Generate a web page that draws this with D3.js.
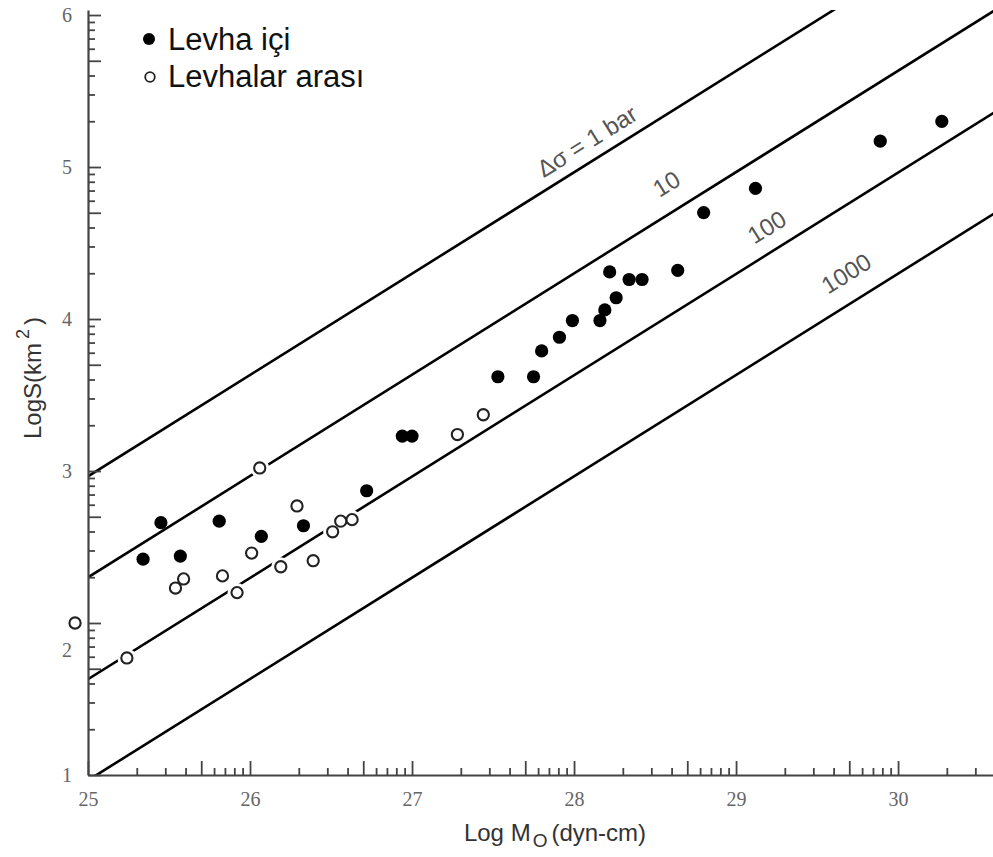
<!DOCTYPE html>
<html>
<head>
<meta charset="utf-8">
<script src="https://cdn.jsdelivr.net/npm/d3@7"></script>
<style>
  html, body { margin: 0; padding: 0; background: #fff; }
  svg { display: block; }
</style>
</head>
<body>
<script>
// Rupture area vs. seismic moment, with constant stress-drop lines

// Intraplate events (filled symbols): log M0 (dyn-cm), log S (km^2)
const intraLogM = [25.34, 25.45, 25.57, 25.81, 26.07, 26.33, 26.72, 26.94, 27.00,
  27.53, 27.75, 27.80, 27.91, 27.99, 28.16, 28.19, 28.22, 28.26, 28.34, 28.42,
  28.64, 28.80, 29.12, 29.89, 30.27];
const intraLogS = [2.42, 2.66, 2.44, 2.67, 2.57, 2.64, 2.87, 3.23, 3.23,
  3.62, 3.62, 3.79, 3.88, 3.99, 3.99, 4.06, 4.31, 4.14, 4.26, 4.26,
  4.32, 4.70, 4.86, 5.17, 5.30];

// Interplate events (open symbols)
const interLogM = [24.92, 25.24, 25.54, 25.59, 25.83, 25.92, 26.01, 26.06, 26.19,
  26.29, 26.39, 26.51, 26.56, 26.63, 27.28, 27.44];
const interLogS = [2.00, 1.77, 2.23, 2.29, 2.31, 2.20, 2.46, 3.02, 2.37,
  2.77, 2.41, 2.60, 2.67, 2.68, 3.24, 3.37];

// Constant stress-drop lines, given by their end values
const stressLabels = ["\u0394\u03c3 = 1 bar", "10", "100", "1000"];
const lineLogM = [25, 31];
const lineStartLogS = [2.965, 2.30, 1.63, 0.965];
const lineEndLogS = [6.965, 6.30, 5.63, 4.965];
// where each line's label sits (log M0, log S)
const labelLogM = [28.08, 28.57, 29.19, 29.68];
const labelLogS = [5.17, 4.89, 4.605, 4.30];

// Axis ticks
const xMajorTicks = [25, 26, 27, 28, 29, 30];
const yMajorTicks = [1, 2, 3, 4, 5, 6];
const minorFactors = [2, 3, 4, 6, 7, 8, 9];
const midFactor = 5;

const legendLabels = ["Levha i\u00e7i", "Levhalar aras\u0131"];

const W = 993, H = 857;
const svg = d3.select("body").append("svg").attr("width", W).attr("height", H);

const x = d3.scaleLinear().domain([25, 30.586]).range([88, 993]);
const y = d3.scaleLinear().domain([1, 6.033]).range([775, 10]);

const axisColor = "#444";
const serif = "'Liberation Serif', 'DejaVu Serif', serif";
const sans = "'Liberation Sans', Arial, sans-serif";

// decade sub-ticks of a log scale, expressed in log units
function subTicks(lo, hi, factors) {
  const out = [];
  for (let n = Math.floor(lo); n < hi; n++) {
    factors.forEach(k => {
      const v = n + Math.log10(k);
      if (v > lo && v < hi) out.push(v);
    });
  }
  return out;
}

// clip for the stress-drop lines
svg.append("clipPath").attr("id", "plotClip")
  .append("rect").attr("x", x(25)).attr("y", y(6.033))
  .attr("width", x(30.586) - x(25)).attr("height", y(1) - y(6.033));

// ---- stress-drop lines
const lineGen = d3.line().x(d => x(d[0])).y(d => y(d[1]));
const linesG = svg.append("g").attr("clip-path", "url(#plotClip)");
stressLabels.forEach((lab, i) => {
  linesG.append("path")
    .attr("d", lineGen([[lineLogM[0], lineStartLogS[i]], [lineLogM[1], lineEndLogS[i]]]))
    .attr("fill", "none").attr("stroke", "#000").attr("stroke-width", 2.6);
});

// labels along the lines
const angle = -Math.atan(((y(1) - y(2)) * (2 / 3)) / (x(26) - x(25))) * 180 / Math.PI;
stressLabels.forEach((lab, i) => {
  const px = x(labelLogM[i]), py = y(labelLogS[i]);
  svg.append("text")
    .attr("transform", `translate(${px},${py}) rotate(${angle})`)
    .attr("text-anchor", "middle").attr("dominant-baseline", "central")
    .attr("font-family", sans).attr("font-size", 24).attr("fill", "#555")
    .text(lab);
});

// ---- axes
function styleAxis(g) {
  g.selectAll("path.domain").attr("stroke", axisColor).attr("stroke-width", 2.2);
  g.selectAll(".tick line").attr("stroke", axisColor).attr("stroke-width", 1.8);
}

const xG = svg.append("g").attr("transform", `translate(0,${y(1)})`);
xG.append("g").call(d3.axisBottom(x).tickValues(subTicks(25, 30.586, minorFactors))
  .tickSizeInner(-7).tickSizeOuter(0).tickFormat(""))
  .call(g => g.select(".domain").remove()).call(styleAxis);
xG.append("g").call(d3.axisBottom(x).tickValues(subTicks(25, 30.586, [midFactor]))
  .tickSizeInner(-14).tickSizeOuter(0).tickFormat(""))
  .call(g => g.select(".domain").remove()).call(styleAxis);
xG.append("g").call(d3.axisBottom(x).tickValues(xMajorTicks)
  .tickSizeInner(-14).tickSizeOuter(0).tickPadding(17).tickFormat(d3.format("d")))
  .call(styleAxis)
  .call(g => g.selectAll("text").attr("font-family", serif).attr("font-size", 20).attr("fill", "#666"));

const yG = svg.append("g").attr("transform", `translate(${x(25)},0)`);
yG.append("g").call(d3.axisLeft(y).tickValues(subTicks(1, 6.033, minorFactors))
  .tickSizeInner(-7).tickSizeOuter(0).tickFormat(""))
  .call(g => g.select(".domain").remove()).call(styleAxis);
yG.append("g").call(d3.axisLeft(y).tickValues(subTicks(1, 6.033, [midFactor]))
  .tickSizeInner(-13).tickSizeOuter(0).tickFormat(""))
  .call(g => g.select(".domain").remove()).call(styleAxis);
yG.append("g").call(d3.axisLeft(y).tickValues(yMajorTicks)
  .tickSizeInner(-13).tickSizeOuter(0).tickPadding(16).tickFormat(d3.format("d")))
  .call(styleAxis)
  .call(g => g.selectAll("text").attr("font-family", serif).attr("font-size", 20).attr("fill", "#666"))
  // the "2" label sits below its tick, clear of the open symbol at the axis
  .call(g => g.selectAll(".tick").filter(d => d === 2).select("text").attr("dy", "1.65em"));

// axis titles
const xTitle = svg.append("text")
  .attr("x", 555).attr("y", 841).attr("text-anchor", "middle")
  .attr("font-family", sans).attr("font-size", 24).attr("fill", "#333");
xTitle.append("tspan").text("Log M");
xTitle.append("tspan").attr("font-size", 19).attr("dy", 6).attr("dx", 2).text("O");
xTitle.append("tspan").attr("dy", -6).attr("dx", 4).text("(dyn-cm)");

const yTitle = svg.append("text")
  .attr("transform", "translate(41,378) rotate(-90)").attr("text-anchor", "middle")
  .attr("font-family", sans).attr("font-size", 24).attr("fill", "#333");
yTitle.append("tspan").text("LogS(km");
yTitle.append("tspan").attr("font-size", 18).attr("dy", -12).attr("dx", 4).text("2");
yTitle.append("tspan").attr("dy", 12).attr("dx", 4).text(")");

// ---- data points
const inter = interLogM.map((m, i) => [m, interLogS[i]]);
const intra = intraLogM.map((m, i) => [m, intraLogS[i]]);

// white halo breaks the lines around open symbols
svg.append("g").selectAll("circle").data(inter).join("circle")
  .attr("cx", d => x(d[0])).attr("cy", d => y(d[1])).attr("r", 9.5).attr("fill", "#fff");

svg.append("g").selectAll("circle").data(intra).join("circle")
  .attr("cx", d => x(d[0])).attr("cy", d => y(d[1])).attr("r", 6.6).attr("fill", "#000");

svg.append("g").selectAll("circle").data(inter).join("circle")
  .attr("cx", d => x(d[0])).attr("cy", d => y(d[1])).attr("r", 5.6)
  .attr("fill", "#fff").attr("stroke", "#222").attr("stroke-width", 2.1);

// ---- legend
const leg = svg.append("g");
leg.append("circle").attr("cx", 149).attr("cy", 39).attr("r", 6).attr("fill", "#000");
leg.append("circle").attr("cx", 150).attr("cy", 77).attr("r", 4.8)
  .attr("fill", "#fff").attr("stroke", "#222").attr("stroke-width", 1.8);
legendLabels.forEach((t, i) => {
  leg.append("text").attr("x", 168).attr("y", 50 + i * 37)
    .attr("font-family", sans).attr("font-size", 31).attr("fill", "#111").text(t);
});
</script>
</body>
</html>
